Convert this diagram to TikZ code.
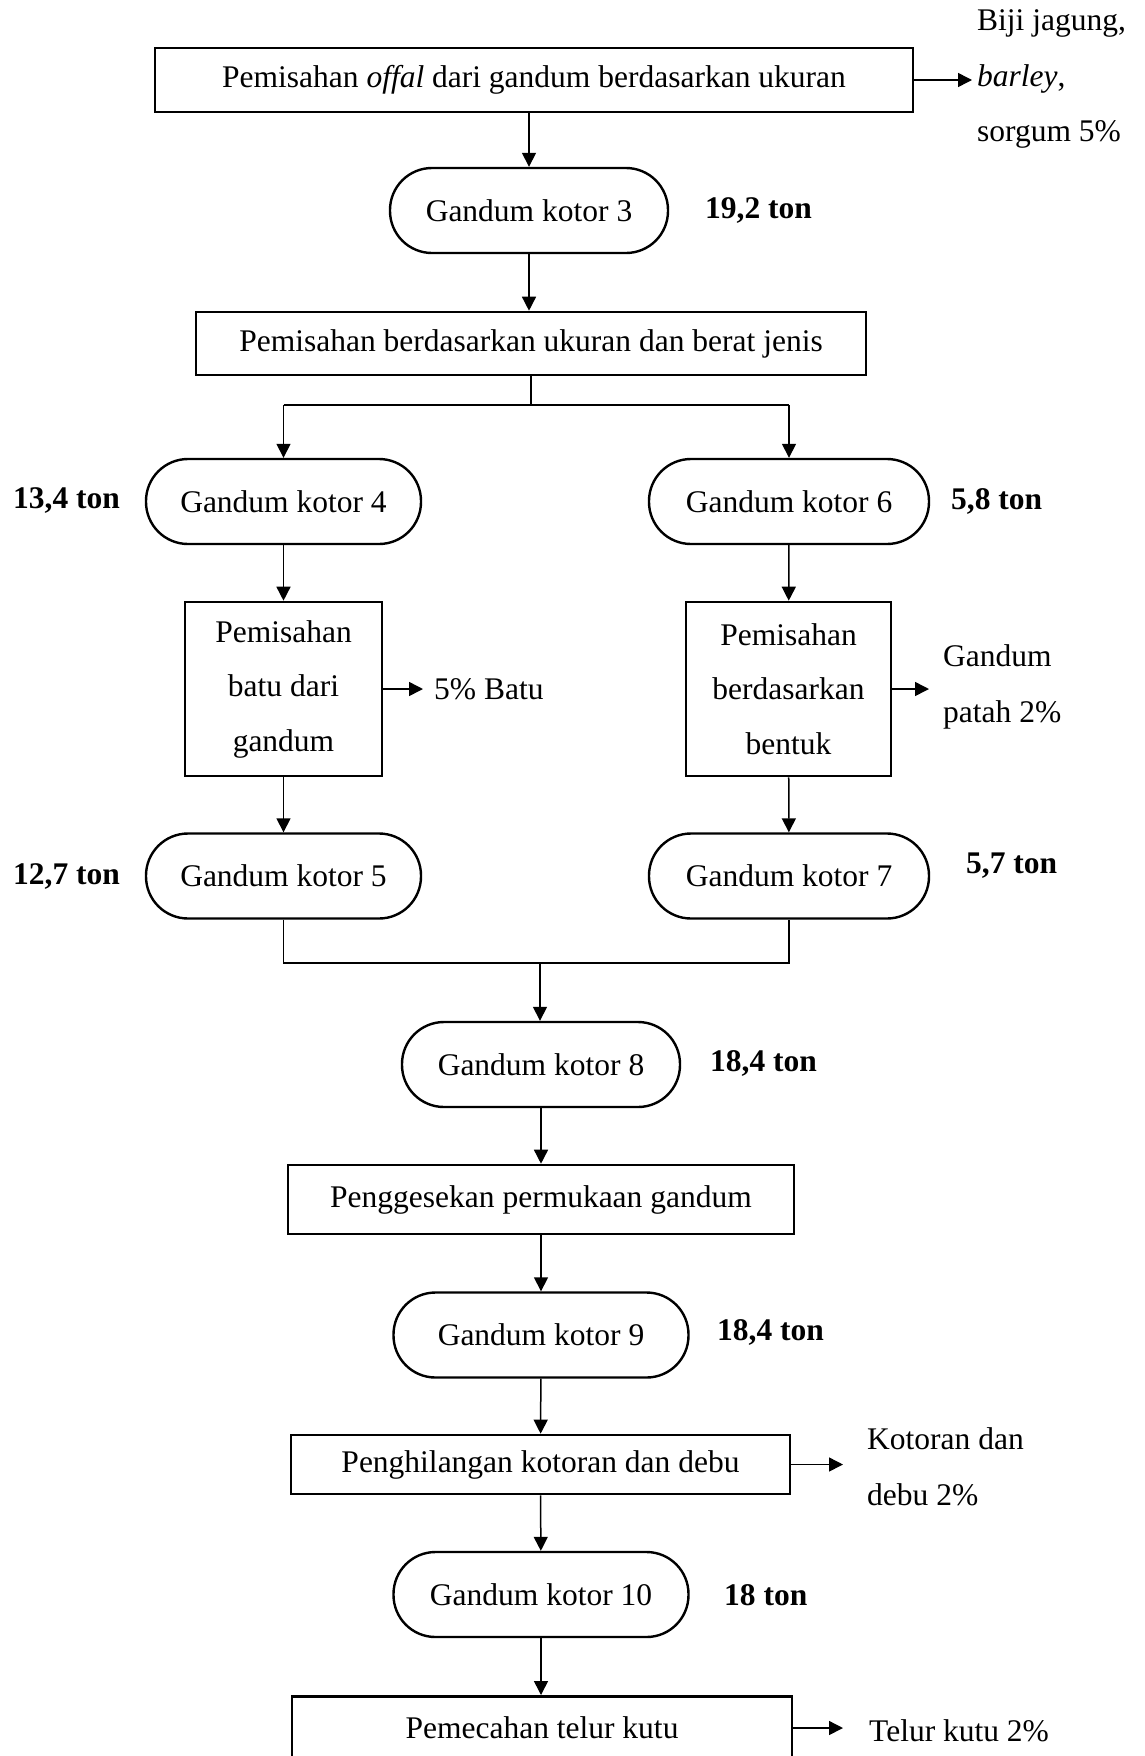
\documentclass[tikz,border=0pt]{standalone}
\usepackage{fontspec}
\setmainfont{Liberation Serif}
\usetikzlibrary{arrows.meta}
\begin{document}
\begin{tikzpicture}[x=1pt,y=-1pt,
  every node/.style={font=\fontsize{31.5}{37}\selectfont, inner sep=0pt},
  procbox/.style={draw, line width=2.6pt, rectangle},
  tallbox/.style={procbox, align=center, minimum height=174pt,
    font=\fontsize{31.5}{54.5}\selectfont},
  pill/.style={draw, line width=2.4pt, rounded corners=42pt, minimum height=85pt},
  qty/.style={anchor=west, font=\fontsize{31.5}{37}\selectfont\bfseries},
  side/.style={anchor=west, align=left, font=\fontsize{31.5}{55.5}\selectfont},
  flow/.style={line width=1.5pt, -{Triangle[length=14pt,width=14pt]}},
  link/.style={line width=1.5pt}
]
\useasboundingbox (0,0) rectangle (1144,1756);
\clip (0,0) rectangle (1144,1756);

% main column, top part
\node[procbox, minimum width=758pt, minimum height=64pt] (b1) at (534,80)
  {Pemisahan \textit{offal} dari gandum berdasarkan ukuran};
\node[side] (s1) at (977,79) {Biji jagung,\\\textit{barley},\\sorgum 5\%};
\node[pill, minimum width=278pt] (p3) at (529,210.5) {Gandum kotor 3};
\node[qty] at (705,211) {19,2 ton};
\node[procbox, minimum width=670pt, minimum height=63pt] (b2) at (531,343.5)
  {Pemisahan berdasarkan ukuran dan berat jenis};
\coordinate (split) at (531,405);

% two branches
\node[pill, minimum width=275pt] (p4) at (283.5,501.5) {Gandum kotor 4};
\node[pill, minimum width=280pt] (p6) at (789,501.5) {Gandum kotor 6};
\node[qty] at (13,501) {13,4 ton};
\node[qty] at (951,501) {5,8 ton};
\node[tallbox, minimum width=197pt] (bL) at (283.5,689) {Pemisahan\\batu dari\\gandum};
\node[tallbox, minimum width=205pt] (bR) at (788.5,689) {Pemisahan\\berdasarkan\\bentuk};
\node[side] (sL) at (434,689) {5\% Batu};
\node[side] (sR) at (943,687) {Gandum\\patah 2\%};
\node[pill, minimum width=275pt] (p5) at (283.5,876) {Gandum kotor 5};
\node[pill, minimum width=280pt] (p7) at (789,876) {Gandum kotor 7};
\node[qty] at (13,876) {12,7 ton};
\node[qty] at (966,866) {5,7 ton};
\coordinate (join) at (540,963);

% main column, lower part
\node[pill, minimum width=278pt] (p8) at (541,1064.5) {Gandum kotor 8};
\node[qty] at (710,1063) {18,4 ton};
\node[procbox, minimum width=506pt, minimum height=69pt] (b3) at (541,1199.5)
  {Penggesekan permukaan gandum};
\node[pill, minimum width=295pt] (p9) at (541,1335) {Gandum kotor 9};
\node[qty] at (717,1332) {18,4 ton};
\node[procbox, minimum width=499pt, minimum height=59pt] (b4) at (540.5,1464.5)
  {Penghilangan kotoran dan debu};
\node[side] (s4) at (867,1467) {Kotoran dan\\debu 2\%};
\node[pill, minimum width=295pt] (p10) at (541,1594.5) {Gandum kotor 10};
\node[qty] at (724,1595) {18 ton};
\node[procbox, minimum width=500pt, minimum height=140pt, anchor=north] (b5) at (542,1695) {};
\node (t5) at (542,1728) {Pemecahan telur kutu};
\node[side] (s5) at (869,1731) {Telur kutu 2\%};

% connectors
\draw[flow] (b1.east) -- ([xshift=-5pt]s1.west |- b1.east);
\draw[flow] (p3.north |- b1.south) -- (p3.north);
\draw[flow] (p3.south) -- (p3.south |- b2.north);
\draw[link] (b2.south) -- (split);
\draw[link] (p4.north |- split) -- (p6.north |- split);
\draw[flow] (p4.north |- split) -- (p4.north);
\draw[flow] (p6.north |- split) -- (p6.north);
\draw[flow] (p4) -- (bL);
\draw[flow] (p6) -- (bR);
\draw[flow] (bL.east) -- ([xshift=-11pt]sL.west |- bL.east);
\draw[flow] (bR.east) -- ([xshift=-14pt]sR.west |- bR.east);
\draw[flow] (bL) -- (p5);
\draw[flow] (bR) -- (p7);
\draw[link] (p5.south) -- (p5.south |- join) -- (p7.south |- join) -- (p7.south);
\draw[flow] (join) -- (join |- p8.north);
\draw[flow] (p8) -- (b3);
\draw[flow] (b3) -- (p9);
\draw[flow] (p9) -- (b4);
\draw[flow] (b4.east) -- ([xshift=-24pt]s4.west |- b4.east);
\draw[flow] (b4) -- (p10);
\draw[flow] (p10.south) -- (p10.south |- b5.north);
\draw[flow] (t5 -| b5.east) -- ([xshift=-26pt]s5.west |- t5);
\end{tikzpicture}
\end{document}
